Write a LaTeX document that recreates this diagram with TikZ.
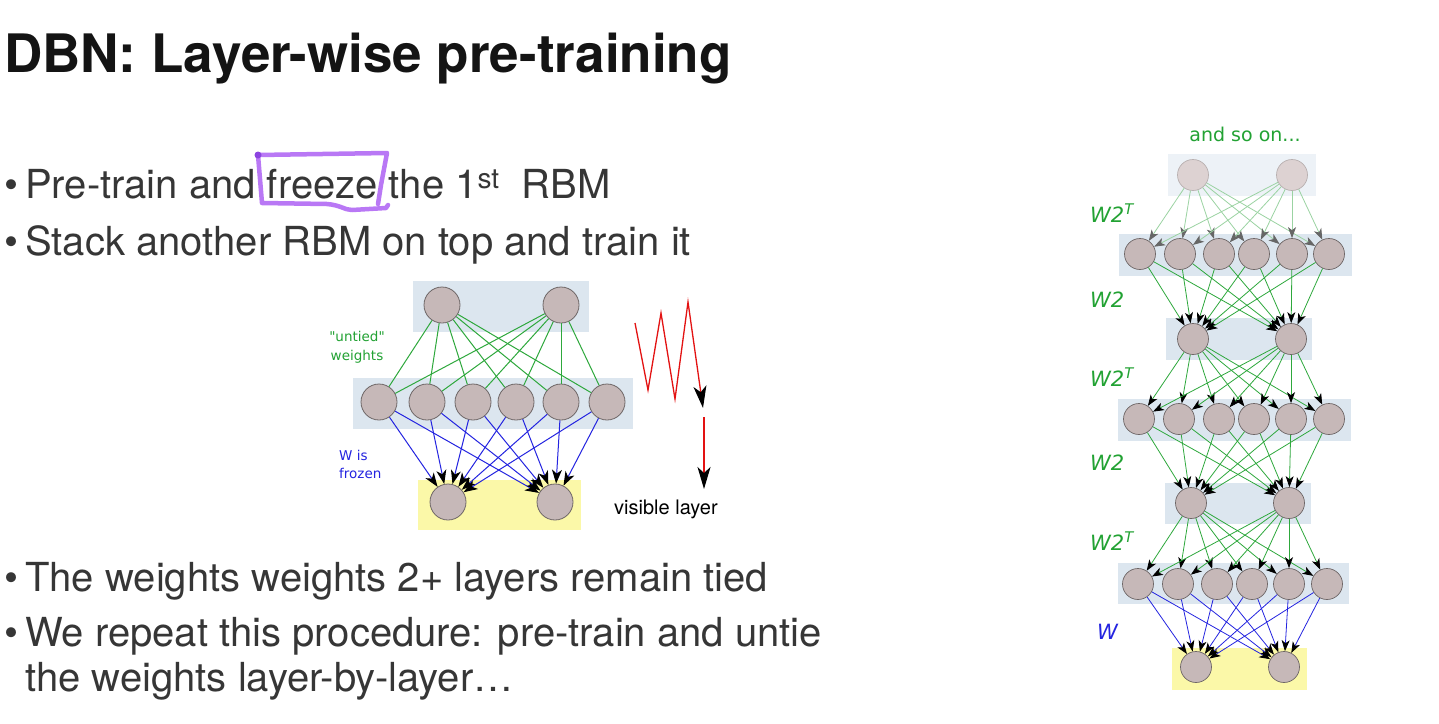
\documentclass[tikz,border=0pt]{standalone}
\usepackage{fontspec}
\setmainfont{TeX Gyre Heros}
\newfontfamily\labelfont{DejaVu Sans}
\usetikzlibrary{arrows.meta}

\definecolor{bodytext}{HTML}{363636}
\definecolor{unitfill}{HTML}{C6B8B8}
\definecolor{unitborder}{HTML}{6E6666}
\definecolor{fadedfill}{HTML}{DDD2D2}
\definecolor{fadedborder}{HTML}{B8B0B0}
\definecolor{layerblue}{HTML}{DCE6EF}
\definecolor{fadedblue}{HTML}{EDF2F7}
\definecolor{visibleyellow}{HTML}{FBF8A8}
\definecolor{weightgreen}{HTML}{2EA83C}
\definecolor{labelgreen}{HTML}{22A233}
\definecolor{fadedgreen}{HTML}{9BD3A2}
\definecolor{weightblue}{HTML}{2424E0}
\definecolor{zigzagred}{HTML}{E31212}
\definecolor{markerpurple}{HTML}{B978F5}
\definecolor{markerdot}{HTML}{8C44E0}

\begin{document}
\begin{tikzpicture}[x=1pt,y=-1pt,
  bigunit/.style={circle,draw=unitborder,fill=unitfill,line width=0.8pt,minimum size=36pt,inner sep=0pt},
  smallunit/.style={circle,draw=unitborder,fill=unitfill,line width=0.7pt,minimum size=31pt,inner sep=0pt},
  fadedunit/.style={smallunit,draw=fadedborder,fill=fadedfill},
  untied/.style={weightgreen,line width=1pt},
  frozen/.style={weightblue,line width=1pt,-{Stealth[color=black,length=14pt,width=10pt,inset=4pt]}},
  tiedright/.style={weightgreen,line width=0.8pt,-{Stealth[color=black,length=11pt,width=8pt,inset=3pt]}},
  fadedright/.style={fadedgreen,line width=0.8pt,-{Stealth[color=black!60,length=11pt,width=8pt,inset=3pt]}},
  frozenright/.style={weightblue,line width=0.8pt,-{Stealth[color=black,length=11pt,width=8pt,inset=3pt]}},
  bodyline/.style={anchor=base west,inner sep=0pt,text=bodytext,font=\fontsize{40}{46}\selectfont},
  wlabel/.style={anchor=west,inner sep=0pt,font=\labelfont\itshape\fontsize{21}{24}\selectfont},
  redpath/.style={zigzagred,line width=1.3pt,-{Stealth[color=black,length=22pt,width=13pt,inset=6pt]}},
  marker/.style={markerpurple,line width=4.5pt,line cap=round,line join=round}
]
\fill[white] (0,0) rectangle (1439,723);
\useasboundingbox (0,0) rectangle (1439,723);

% ---------- heading ----------
\node[anchor=base west,inner sep=0pt,text=black!92,font=\bfseries\fontsize{53}{60}\selectfont]
  (title) at (4,72) {DBN: Layer-wise pre-training};

% ---------- bullet list ----------
\node[bodyline] (b1) at (4,198) {\textbullet};
\node[bodyline] (t1) at (25,198) {Pre-train and freeze the 1\textsuperscript{st}\ \ RBM};
\node[bodyline] (b2) at (4,255) {\textbullet};
\node[bodyline] (t2) at (25,255) {Stack another RBM on top and train it};
\node[bodyline] (b3) at (4,591) {\textbullet};
\node[bodyline] (t3) at (25,591) {The weights weights 2+ layers remain tied};
\node[bodyline] (b4) at (4,646) {\textbullet};
\node[bodyline] (t4) at (25,646) {We repeat this procedure: pre-train and untie};
\node[bodyline] (t5) at (25,691) {the weights layer-by-layer\ldots};

% hand-drawn highlight around "freeze"
\draw[marker] (258,155) -- (387,153) -- (381,185) -- (378,204);
\draw[marker] (258,155) -- (262,203) -- (327,204)
  .. controls (340,205) and (345,210) .. (352,210) -- (386,208) -- (388,205);
\fill[markerdot] (258,155) circle (3.5pt);

% ---------- left network: one new RBM on a frozen one ----------
\fill[layerblue] (413,281) rectangle (589,332);
\fill[layerblue] (353,378) rectangle (633,429);
\fill[visibleyellow] (418,480) rectangle (581,530);

\foreach \n/\x in {1/442,2/561} \node[bigunit] (lt\n) at (\x,305) {};
\foreach \n/\x in {1/379,2/427,3/473,4/516,5/561,6/607} \node[bigunit] (lm\n) at (\x,402) {};
\foreach \n/\x in {1/448,2/555} \node[bigunit] (lb\n) at (\x,502) {};

\foreach \i in {1,2} \foreach \j in {1,...,6} \draw[untied] (lt\i) -- (lm\j);
\foreach \j in {1,...,6} \foreach \i in {1,2} \draw[frozen] (lm\j) -- (lb\i);

\node[align=center,inner sep=0pt,text=labelgreen,font=\labelfont\fontsize{13.5}{19}\selectfont]
  (untiedlbl) at (357,347) {"untied"\\weights};
\node[align=left,anchor=west,inner sep=0pt,text=weightblue,font=\labelfont\fontsize{13.5}{18}\selectfont]
  (frozenlbl) at (339,464) {W is\\frozen};

% sampling path down to the visible layer
\coordinate (z0) at (635,323);
\coordinate (z1) at (648,390);
\coordinate (z2) at (661,313);
\coordinate (z3) at (675,399);
\coordinate (z4) at (688,302);
\coordinate (z5) at (703,408);
\coordinate (d0) at (704,417);
\coordinate (d1) at (704,489);
\draw[redpath,line join=miter] (z0) -- (z1) -- (z2) -- (z3) -- (z4) -- (z5);
\draw[redpath] (d0) -- (d1);
\node[anchor=base west,inner sep=0pt,text=black,font=\fontsize{20}{24}\selectfont]
  (visiblelbl) at (614,514) {visible layer};

% ---------- right network: the unrolled stack ----------
\fill[fadedblue] (1168,154) rectangle (1316,196);
\fill[layerblue] (1119,234) rectangle (1352,276);
\fill[layerblue] (1166,318) rectangle (1312,360);
\fill[layerblue] (1118,399) rectangle (1351,441);
\fill[layerblue] (1165,483) rectangle (1311,524);
\fill[layerblue] (1118,563) rectangle (1349,604);
\fill[visibleyellow] (1172,648) rectangle (1307,690);

\foreach \n/\x in {1/1193,2/1292} \node[fadedunit] (ra\n) at (\x,175) {};
\foreach \n/\x in {1/1140,2/1180,3/1219,4/1254,5/1292,6/1329} \node[smallunit] (rb\n) at (\x,254) {};
\foreach \n/\x in {1/1193,2/1291} \node[smallunit] (rc\n) at (\x,339) {};
\foreach \n/\x in {1/1139,2/1179,3/1219,4/1254,5/1291,6/1329} \node[smallunit] (rd\n) at (\x,419) {};
\foreach \n/\x in {1/1191,2/1289} \node[smallunit] (re\n) at (\x,503) {};
\foreach \n/\x in {1/1138,2/1178,3/1217,4/1252,5/1289,6/1327} \node[smallunit] (rf\n) at (\x,584) {};
\foreach \n/\x in {1/1196,2/1284} \node[smallunit] (rg\n) at (\x,667) {};

\foreach \i in {1,2} \foreach \j in {1,...,6} \draw[fadedright] (ra\i) -- (rb\j);
\foreach \j in {1,...,6} \foreach \i in {1,2} \draw[tiedright] (rb\j) -- (rc\i);
\foreach \i in {1,2} \foreach \j in {1,...,6} \draw[tiedright] (rc\i) -- (rd\j);
\foreach \j in {1,...,6} \foreach \i in {1,2} \draw[tiedright] (rd\j) -- (re\i);
\foreach \i in {1,2} \foreach \j in {1,...,6} \draw[tiedright] (re\i) -- (rf\j);
\foreach \j in {1,...,6} \foreach \i in {1,2} \draw[frozenright] (rf\j) -- (rg\i);

\node[inner sep=0pt,text=labelgreen,font=\labelfont\fontsize{19}{22}\selectfont]
  (andsoon) at (1245,134) {and so on...};
\node[wlabel,text=labelgreen] (w2ta) at (1090,213) {W2\textsuperscript{T}};
\node[wlabel,text=labelgreen] (w2a) at (1090,300) {W2};
\node[wlabel,text=labelgreen] (w2tb) at (1090,377) {W2\textsuperscript{T}};
\node[wlabel,text=labelgreen] (w2b) at (1090,463) {W2};
\node[wlabel,text=labelgreen] (w2tc) at (1090,541) {W2\textsuperscript{T}};
\node[wlabel,text=weightblue] (wlbl) at (1097,632) {W};
\end{tikzpicture}
\end{document}
